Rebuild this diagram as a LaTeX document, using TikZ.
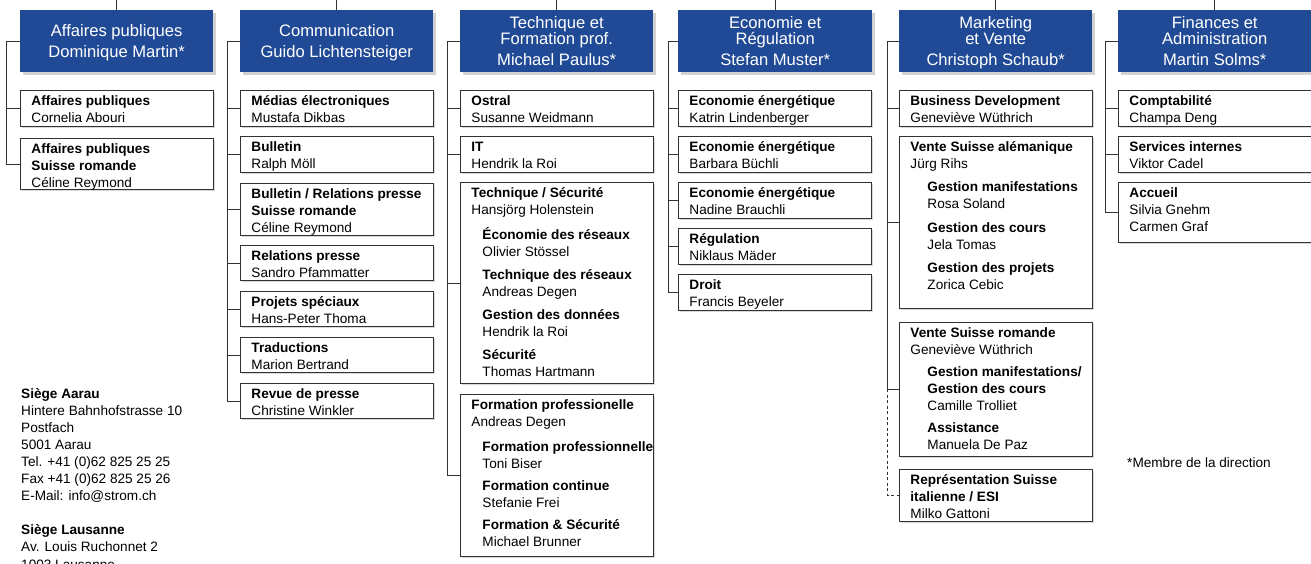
\documentclass[tikz,border=0pt]{standalone}
\usepackage{fontspec}
\setmainfont{Liberation Sans}
\usetikzlibrary{shadows}
\definecolor{hblue}{RGB}{33,74,150}
\definecolor{lgray}{RGB}{50,50,50}
\newcommand\firststrut{\rule[-4.5pt]{0pt}{19.5pt}}
\newcommand\bxt[2]{\parbox[c][#1pt][t]{193pt}{\raggedright\leftskip=11pt\fontsize{13.6}{17}\selectfont\firststrut#2}}
\newcommand\hb[1]{\textbf{#1}}
\newcommand\na{\hspace*{11pt}}
\newcommand\nb{\hspace*{17pt}}
\tikzset{
  sub/.style={draw=lgray, line width=0.9pt, fill=white, inner sep=0pt, anchor=north west,
    drop shadow={shadow xshift=1.5pt, shadow yshift=-1.5pt, fill=black!30}},
  head/.style={fill=hblue, text=white, inner sep=0pt, minimum width=193pt, minimum height=62pt,
    anchor=north west, align=center, font=\fontsize{16.6}{16}\selectfont, text depth=0pt,
    drop shadow={shadow xshift=3pt, shadow yshift=-3pt, fill=black!35}},
  conn/.style={draw=lgray, line width=0.8pt},
  dconn/.style={conn, dash pattern=on 3pt off 2.5pt},
  plain/.style={inner sep=0pt, anchor=base west}
}
\begin{document}
\begin{tikzpicture}[x=1pt,y=-1pt]
\clip (0,0) rectangle (1311,563);
\fill[white] (0,0) rectangle (1311,563);
\coordinate (top) at (0,0);

% headers
\node[head] (h1) at (20,10) {Affaires publiques\\[5pt]Dominique Martin*};
\node[head] (h2) at (240,10) {Communication\\[5pt]Guido Lichtensteiger};
\node[head] (h3) at (460,10) {Technique et\\Formation prof.\\[5pt]Michael Paulus*};
\node[head, minimum width=194pt] (h4) at (678,10) {Economie et\\Régulation\\[5pt]Stefan Muster*};
\node[head] (h5) at (899,10) {Marketing\\et Vente\\[5pt]Christoph Schaub*};
\node[head] (h6) at (1118,10) {Finances et\\Administration\\[5pt]Martin Solms*};

% column 1
\node[sub] (a1) at (20,90) {\bxt{36}{\hb{Affaires publiques}\\Cornelia Abouri}};
\node[sub] (a2) at (20,138) {\bxt{51}{\hb{Affaires publiques}\\\hb{Suisse romande}\\Céline Reymond}};

% column 2
\node[sub] (b1) at (240,90) {\bxt{36}{\hb{Médias électroniques}\\Mustafa Dikbas}};
\node[sub] (b2) at (240,136) {\bxt{36}{\hb{Bulletin}\\Ralph Möll}};
\node[sub] (b3) at (240,183) {\bxt{52}{\hb{Bulletin / Relations presse}\\\hb{Suisse romande}\\Céline Reymond}};
\node[sub] (b4) at (240,245) {\bxt{35}{\hb{Relations presse}\\Sandro Pfammatter}};
\node[sub] (b5) at (240,291) {\bxt{35}{\hb{Projets spéciaux}\\Hans-Peter Thoma}};
\node[sub] (b6) at (240,337) {\bxt{35}{\hb{Traductions}\\Marion Bertrand}};
\node[sub] (b7) at (240,383) {\bxt{35}{\hb{Revue de presse}\\Christine Winkler}};

% column 3
\node[sub] (c1) at (460,90) {\bxt{36}{\hb{Ostral}\\Susanne Weidmann}};
\node[sub] (c2) at (460,136) {\bxt{36}{\hb{IT}\\Hendrik la Roi}};
\node[sub] (c3) at (460,182) {\bxt{201}{\hb{Technique / Sécurité}\\Hansjörg Holenstein\\[8pt]
  \na\hb{Économie des réseaux}\\\na Olivier Stössel\\[6pt]
  \na\hb{Technique des réseaux}\\\na Andreas Degen\\[6pt]
  \na\hb{Gestion des données}\\\na Hendrik la Roi\\[6pt]
  \na\hb{Sécurité}\\\na Thomas Hartmann}};
\node[sub] (c4) at (460,394) {\bxt{162}{\hb{Formation professionelle}\\Andreas Degen\\[8pt]
  \na\hb{Formation professionnelle}\\\na Toni Biser\\[5pt]
  \na\hb{Formation continue}\\\na Stefanie Frei\\[5pt]
  \na\hb{Formation \& Sécurité}\\\na Michael Brunner}};

% column 4
\node[sub] (d1) at (678,90) {\bxt{36}{\hb{Economie énergétique}\\Katrin Lindenberger}};
\node[sub] (d2) at (678,136) {\bxt{36}{\hb{Economie énergétique}\\Barbara Büchli}};
\node[sub] (d3) at (678,182) {\bxt{36}{\hb{Economie énergétique}\\Nadine Brauchli}};
\node[sub] (d4) at (678,228) {\bxt{36}{\hb{Régulation}\\Niklaus Mäder}};
\node[sub] (d5) at (678,274) {\bxt{36}{\hb{Droit}\\Francis Beyeler}};

% column 5
\node[sub] (e1) at (899,90) {\bxt{36}{\hb{Business Development}\\Geneviève Wüthrich}};
\node[sub] (e2) at (899,136) {\bxt{172}{\hb{Vente Suisse alémanique}\\Jürg Rihs\\[6.5pt]
  \nb\hb{Gestion manifestations}\\\nb Rosa Soland\\[6.5pt]
  \nb\hb{Gestion des cours}\\\nb Jela Tomas\\[6.5pt]
  \nb\hb{Gestion des projets}\\\nb Zorica Cebic}};
\node[sub] (e3) at (899,322) {\bxt{134}{\hb{Vente Suisse romande}\\Geneviève Wüthrich\\[5pt]
  \nb\hb{Gestion manifestations/}\\\nb\hb{Gestion des cours}\\\nb Camille Trolliet\\[5pt]
  \nb\hb{Assistance}\\\nb Manuela De Paz}};
\node[sub] (e4) at (899,469) {\bxt{52}{\hb{Représentation Suisse}\\\hb{italienne / ESI}\\Milko Gattoni}};

% column 6
\node[sub] (f1) at (1118,90) {\bxt{36}{\hb{Comptabilité}\\Champa Deng}};
\node[sub] (f2) at (1118,136) {\bxt{36}{\hb{Services internes}\\Viktor Cadel}};
\node[sub] (f3) at (1118,182) {\bxt{60}{\hb{Accueil}\\Silvia Gnehm\\Carmen Graf}};

% top stubs
\foreach \h in {h1,h2,h3,h4,h5,h6} \draw[conn] (\h.north) -- (\h.north |- top);

% column spines
\draw[conn] (h1.west) -- ++(-14,0) |- (a2.west);
\draw[conn] (a1.west) -- ++(-14,0);

\draw[conn] (h2.west) -- ++(-13,0) |- (b7.west);
\foreach \b in {b1,b2,b3,b4,b5,b6} \draw[conn] (\b.west) -- ++(-13,0);

\draw[conn] (h3.west) -- ++(-13,0) |- (c4.west);
\foreach \b in {c1,c2,c3} \draw[conn] (\b.west) -- ++(-13,0);

\draw[conn] (h4.west) -- ++(-10,0) |- (d5.west);
\foreach \b in {d1,d2,d3,d4} \draw[conn] (\b.west) -- ++(-10,0);

\draw[conn] (h5.west) -- ++(-12,0) |- (e3.west);
\foreach \b in {e1,e2} \draw[conn] (\b.west) -- ++(-12,0);
\draw[dconn] (e3.west) ++(-12,0) |- (e4.west);

\draw[conn] (h6.west) -- ++(-13,0) |- (f3.west);
\foreach \b in {f1,f2} \draw[conn] (\b.west) -- ++(-13,0);

% address
\node[plain] (addr) at (21,398) {\parbox[t]{220pt}{\fontsize{13.6}{17.1}\selectfont
  \textbf{Siège Aarau}\\Hintere Bahnhofstrasse 10\\Postfach\\5001 Aarau\\Tel. +41 (0)62 825 25 25\\Fax +41 (0)62 825 25 26\\E-Mail: info@strom.ch\\[17.1pt]
  \textbf{Siège Lausanne}\\Av. Louis Ruchonnet 2\\1003 Lausanne}};

\node[plain, font=\fontsize{13.6}{16.7}\selectfont] (note) at (1127,467) {*Membre de la direction};
\end{tikzpicture}
\end{document}
